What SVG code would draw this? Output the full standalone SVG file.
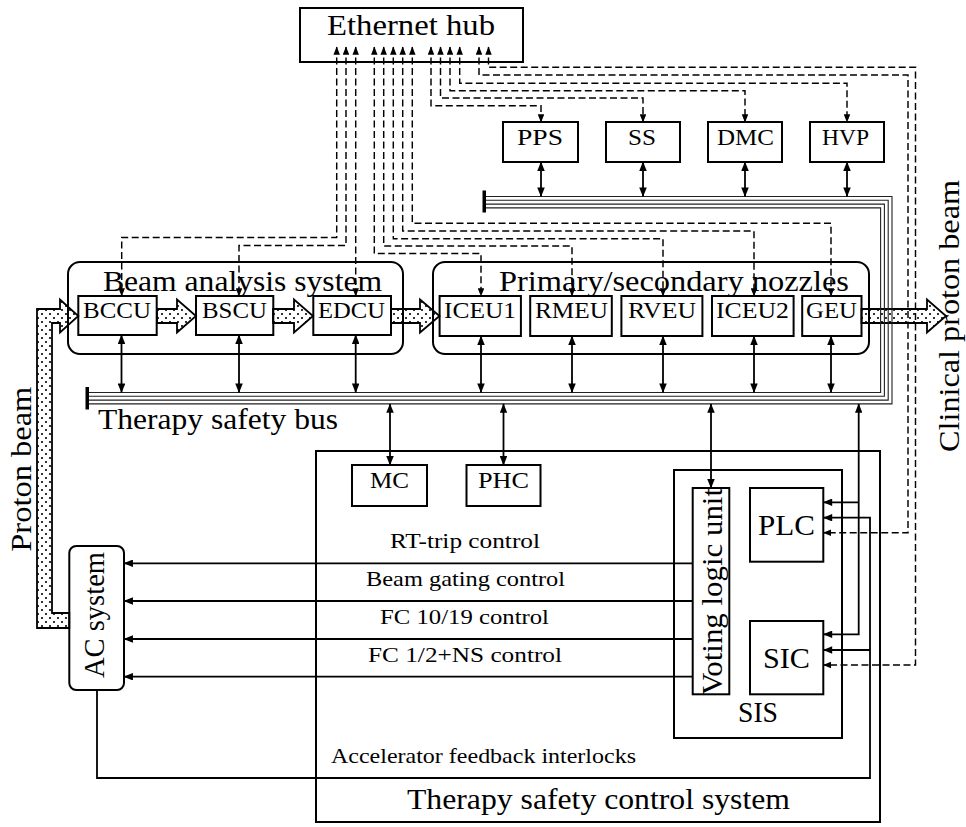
<svg xmlns="http://www.w3.org/2000/svg" width="966" height="827" viewBox="0 0 966 827">
<defs>
<style>
.box{fill:none;stroke:#000;stroke-width:2}
.t{font-family:"Liberation Serif","DejaVu Serif",serif;fill:#000}
.big{font-size:28.7px}
.mid{font-size:23.5px}
.sm{font-size:22px}
.dash{fill:none;stroke:#000;stroke-width:1.45;stroke-dasharray:7 3.5;marker-start:url(#ad);marker-end:url(#ad)}
.dbl{fill:none;stroke:#000;stroke-width:1.8;marker-start:url(#as);marker-end:url(#as)}
.one{fill:none;stroke:#000;stroke-width:1.8;marker-end:url(#as)}
.bus{fill:none;stroke:#222;stroke-width:1.1}
.beam{fill:url(#dots);stroke:#000;stroke-width:1.8;stroke-linejoin:miter}
</style>
<marker id="ad" viewBox="0 0 10 8" refX="9.5" refY="4" markerWidth="8.5" markerHeight="6.5" markerUnits="userSpaceOnUse" orient="auto-start-reverse"><path d="M0,0 L10,4 L0,8 z"/></marker>
<marker id="as" viewBox="0 0 10 8" refX="9.5" refY="4" markerWidth="10" markerHeight="7.5" markerUnits="userSpaceOnUse" orient="auto-start-reverse"><path d="M0,0 L10,4 L0,8 z"/></marker>
<pattern id="dots" width="8" height="8" patternUnits="userSpaceOnUse"><circle cx="2" cy="2" r="1.05"/><circle cx="6" cy="6" r="1.05"/></pattern>
</defs>

<!-- beam transport arrows (dotted fill) -->
<g id="beam-arrows">
<path class="beam" d="M69.3,628 H37 V309 H60 V299.5 L78.3,316 L60,332.5 V323 H52 V613 H69.3 Z"/>
<path class="beam" d="M157,309 H177 V299.5 L196,316 L177,332.5 V323 H157 Z"/>
<path class="beam" d="M273,309 H294 V299.5 L313,316 L294,332.5 V323 H273 Z"/>
<path class="beam" d="M391,309 H420 V299.5 L439.5,316 L420,332.5 V323 H391 Z"/>
<path class="beam" d="M861.5,309 H927 V299.5 L946,316 L927,332.5 V323 H861.5 Z"/>
</g>

<!-- safety bus: four parallel conductors -->
<g id="safety-bus">
<path class="bus" d="M484,196.5 H892 V403.9 H87"/>
<path class="bus" d="M484,200.3 H888.2 V400.1 H87"/>
<path class="bus" d="M484,204.1 H884.4 V396.3 H87"/>
<path class="bus" d="M484,207.9 H880.6 V392.5 H87"/>
<rect x="482.5" y="190.5" width="3.5" height="22"/>
<rect x="85.5" y="387" width="3.5" height="22.5"/>
<text class="t big" x="98" y="429" textLength="240" lengthAdjust="spacingAndGlyphs">Therapy safety bus</text>
</g>

<g id="ethernet-hub">
<rect class="box" x="300" y="8" width="223" height="54"/>
<text class="t big" x="327" y="34.5" textLength="168" lengthAdjust="spacingAndGlyphs">Ethernet hub</text>
</g>

<g id="pps"><rect class="box" x="503" y="122" width="75" height="40"/><text class="t mid" x="517" y="145" textLength="46" lengthAdjust="spacingAndGlyphs">PPS</text></g>
<g id="ss"><rect class="box" x="606" y="122" width="74" height="40"/><text class="t mid" x="628" y="145" textLength="28" lengthAdjust="spacingAndGlyphs">SS</text></g>
<g id="dmc"><rect class="box" x="708" y="122" width="74" height="40"/><text class="t mid" x="717" y="145" textLength="57" lengthAdjust="spacingAndGlyphs">DMC</text></g>
<g id="hvp"><rect class="box" x="810" y="122" width="74" height="40"/><text class="t mid" x="822" y="145" textLength="47" lengthAdjust="spacingAndGlyphs">HVP</text></g>

<g id="beam-analysis-system">
<rect class="box" x="68" y="262" width="335" height="92" rx="12"/>
<text class="t big" x="103" y="291" textLength="279" lengthAdjust="spacingAndGlyphs">Beam analysis system</text>
</g>
<g id="bccu"><rect class="box" x="78.3" y="296" width="78.4" height="39"/><text class="t mid" x="83" y="318" textLength="68" lengthAdjust="spacingAndGlyphs">BCCU</text></g>
<g id="bscu"><rect class="box" x="196" y="296" width="77.3" height="39"/><text class="t mid" x="202" y="318" textLength="65" lengthAdjust="spacingAndGlyphs">BSCU</text></g>
<g id="edcu"><rect class="box" x="313.3" y="296" width="77.7" height="39"/><text class="t mid" x="318" y="318" textLength="67" lengthAdjust="spacingAndGlyphs">EDCU</text></g>

<g id="nozzles">
<rect class="box" x="433" y="262" width="436" height="92" rx="12"/>
<text class="t big" x="499" y="291" textLength="350" lengthAdjust="spacingAndGlyphs">Primary/secondary nozzles</text>
</g>
<g id="iceu1"><rect class="box" x="439.6" y="296" width="81.3" height="40"/><text class="t mid" x="444" y="318" textLength="72" lengthAdjust="spacingAndGlyphs">ICEU1</text></g>
<g id="rmeu"><rect class="box" x="530.2" y="296" width="81.6" height="40"/><text class="t mid" x="535" y="318" textLength="73" lengthAdjust="spacingAndGlyphs">RMEU</text></g>
<g id="rveu"><rect class="box" x="621.4" y="296" width="81" height="40"/><text class="t mid" x="628" y="318" textLength="68" lengthAdjust="spacingAndGlyphs">RVEU</text></g>
<g id="iceu2"><rect class="box" x="712" y="296" width="81.6" height="40"/><text class="t mid" x="716" y="318" textLength="73" lengthAdjust="spacingAndGlyphs">ICEU2</text></g>
<g id="geu"><rect class="box" x="802.2" y="296" width="59.3" height="40"/><text class="t mid" x="806" y="318" textLength="51" lengthAdjust="spacingAndGlyphs">GEU</text></g>

<g id="therapy-safety-control-system">
<rect class="box" x="316" y="451" width="564" height="371"/>
<text class="t big" x="407" y="809" textLength="383" lengthAdjust="spacingAndGlyphs">Therapy safety control system</text>
</g>
<g id="mc"><rect class="box" x="352" y="465" width="75" height="41"/><text class="t mid" x="370" y="488" textLength="39" lengthAdjust="spacingAndGlyphs">MC</text></g>
<g id="phc"><rect class="box" x="466.5" y="465" width="74" height="41"/><text class="t mid" x="478" y="488" textLength="51" lengthAdjust="spacingAndGlyphs">PHC</text></g>

<g id="sis">
<rect class="box" x="674" y="470" width="168" height="268"/>
<text class="t big" x="738" y="721.7" textLength="40" lengthAdjust="spacingAndGlyphs">SIS</text>
</g>
<g id="voting-logic-unit">
<rect class="box" x="692.7" y="488" width="36.6" height="206.3"/>
<text class="t big" transform="translate(721.7,695) rotate(-90)" x="0" y="0" textLength="207" lengthAdjust="spacingAndGlyphs">Voting logic unit</text>
</g>
<g id="plc"><rect class="box" x="750" y="488" width="73.3" height="73.7"/><text class="t big" x="758" y="535" textLength="57" lengthAdjust="spacingAndGlyphs">PLC</text></g>
<g id="sic"><rect class="box" x="750" y="621" width="73.3" height="73.3"/><text class="t big" x="763" y="668.3" textLength="47" lengthAdjust="spacingAndGlyphs">SIC</text></g>

<g id="ac-system">
<rect class="box" x="69.3" y="546" width="54.7" height="144" rx="7"/>
<text class="t big" transform="translate(104,678) rotate(-90)" x="0" y="0" textLength="126" lengthAdjust="spacingAndGlyphs">AC system</text>
</g>

<!-- beam labels -->
<text class="t big" transform="translate(31,551.7) rotate(-90)" x="0" y="0" textLength="165" lengthAdjust="spacingAndGlyphs">Proton beam</text>
<text class="t big" transform="translate(959,452) rotate(-90)" x="0" y="0" textLength="272" lengthAdjust="spacingAndGlyphs">Clinical proton beam</text>

<g id="connectors">
<!-- Ethernet links (dashed) -->
<path class="dash" d="M336.7,47 V237.5 H121.7 V296"/>
<path class="dash" d="M346,47 V245.5 H239 V296"/>
<path class="dash" d="M355.7,47 V296"/>
<path class="dash" d="M374.3,47 V253.5 H481 V296"/>
<path class="dash" d="M383.7,47 V246 H572 V296"/>
<path class="dash" d="M393.3,47 V238.7 H663 V296"/>
<path class="dash" d="M402.7,47 V231 H754 V296"/>
<path class="dash" d="M412.3,47 V223.3 H831 V296"/>
<path class="dash" d="M431,47 V105.7 H541 V122"/>
<path class="dash" d="M440.5,47 V98 H643 V122"/>
<path class="dash" d="M450,47 V90.7 H745 V122"/>
<path class="dash" d="M459.7,47 V83.3 H847 V122"/>
<path class="dash" d="M479,47 V75 H908 V532.7 H823.3"/>
<path class="dash" d="M488.5,47 V67.3 H915.5 V665 H823.3"/>

<!-- safety bus taps -->
<path class="dbl" d="M541,162 V196.5"/>
<path class="dbl" d="M643,162 V196.5"/>
<path class="dbl" d="M745,162 V196.5"/>
<path class="dbl" d="M847,162 V196.5"/>
<path class="dbl" d="M121.5,335 V392.5"/>
<path class="dbl" d="M239,335 V392.5"/>
<path class="dbl" d="M355.7,335 V392.5"/>
<path class="dbl" d="M481,336 V392.5"/>
<path class="dbl" d="M572,336 V392.5"/>
<path class="dbl" d="M663,336 V392.5"/>
<path class="dbl" d="M754,336 V392.5"/>
<path class="dbl" d="M831,336 V392.5"/>
<path class="dbl" d="M390,403.9 V465"/>
<path class="dbl" d="M503.5,403.9 V465"/>
<path class="dbl" d="M711,403.9 V488"/>
<path class="dbl" d="M858.7,403.9 V634.3 H823.3"/>
<path class="one" d="M858.7,502.3 H823.3"/>

<!-- accelerator feedback interlocks -->
<path class="one" d="M97,690 V778 H870 V517.7 H823.3"/>
<path class="one" d="M870,650 H823.3"/>

<!-- voting logic outputs to the accelerator -->
<path class="one" d="M692.7,563.3 H124"/>
<path class="one" d="M692.7,601 H124"/>
<path class="one" d="M692.7,639 H124"/>
<path class="one" d="M692.7,676.7 H124"/>
<text class="t sm" x="390" y="548" textLength="150" lengthAdjust="spacingAndGlyphs">RT-trip control</text>
<text class="t sm" x="366" y="586" textLength="199" lengthAdjust="spacingAndGlyphs">Beam gating control</text>
<text class="t sm" x="380" y="623.5" textLength="169" lengthAdjust="spacingAndGlyphs">FC 10/19 control</text>
<text class="t sm" x="368" y="661.5" textLength="194" lengthAdjust="spacingAndGlyphs">FC 1/2+NS control</text>
<text class="t sm" x="331" y="763" textLength="305" lengthAdjust="spacingAndGlyphs">Accelerator feedback interlocks</text>
</g>
</svg>
